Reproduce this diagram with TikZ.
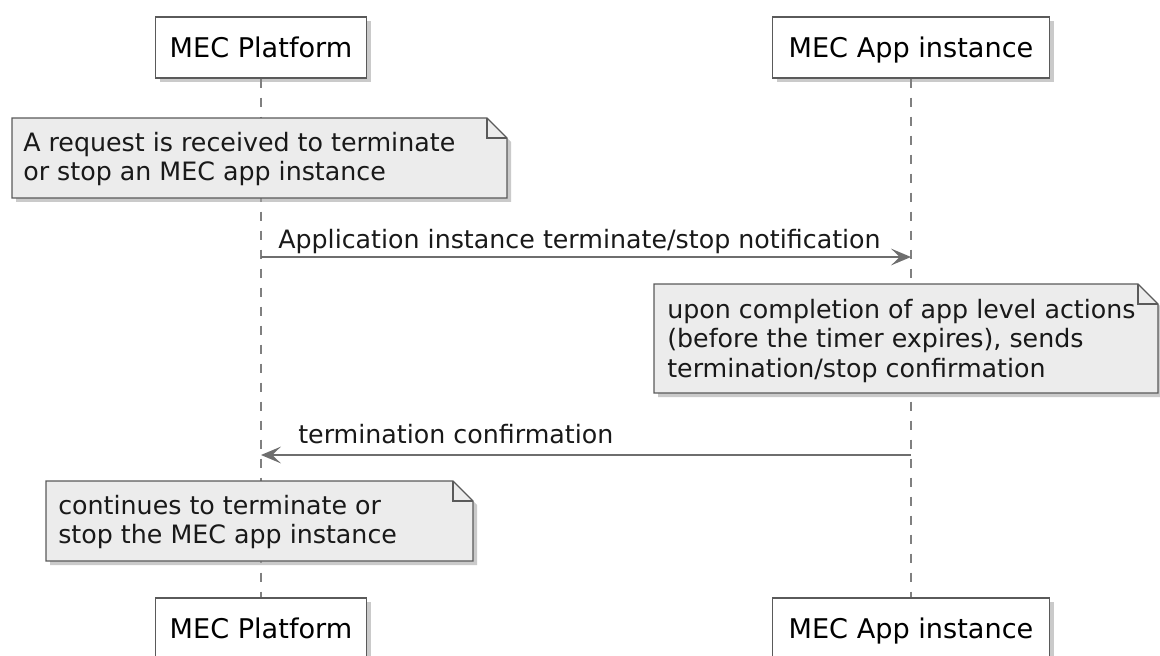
\documentclass[tikz,border=0pt]{standalone}
\usepackage{fontspec}
\setmainfont{DejaVu Sans}
\usetikzlibrary{arrows.meta,shadows}

\definecolor{boxline}{HTML}{5A5A5A}
\definecolor{notefill}{HTML}{ECECEC}
\definecolor{msggray}{HTML}{6E6E6E}
\definecolor{lifegray}{HTML}{808080}

\begin{document}
\begin{tikzpicture}[font=\fontsize{18}{21.3}\selectfont,
  shade/.style={drop shadow={shadow xshift=0.1cm, shadow yshift=-0.1cm, fill=black!35, opacity=0.6}},
  actor/.style={draw=boxline, line width=1pt, fill=white, shade, minimum height=1.525cm, inner sep=0pt, text height=0.55cm, text depth=0.05cm, font=\fontsize{19.3}{21.3}\selectfont},
  lifeline/.style={draw=lifegray, line width=0.8pt, dash pattern=on 0.225cm off 0.25cm},
  note/.style={draw=boxline, line width=0.8pt, fill=notefill, shade},
  notetext/.style={anchor=west, align=left, inner sep=0pt, text=black!90},
  msg/.style={draw=msggray, line width=1pt, -{Stealth[length=0.5cm, width=0.42cm, inset=0.22cm]}},
  msglabel/.style={anchor=base west, inner sep=0pt, text=black!90}]
  \useasboundingbox (0cm,0cm) rectangle (29cm,-16.4cm);

  % participants
  \node[actor, minimum width=5.275cm] (pfTop) at (6.525cm,-1.1875cm) {MEC Platform};
  \node[actor, minimum width=6.925cm] (aiTop) at (22.775cm,-1.1875cm) {MEC App instance};
  \node[actor, minimum width=5.275cm] (pfBot) at (6.525cm,-15.7125cm) {MEC Platform};
  \node[actor, minimum width=6.925cm] (aiBot) at (22.775cm,-15.7125cm) {MEC App instance};

  % lifelines
  \draw[lifeline] (pfTop) -- (pfBot);
  \draw[lifeline] (aiTop) -- (aiBot);

  % note on MEC Platform
  \filldraw[note] (0.3cm,-2.95cm) -- (12.175cm,-2.95cm) -- (12.675cm,-3.45cm) -- (12.675cm,-4.95cm) -- (0.3cm,-4.95cm) -- cycle;
  \draw[boxline, line width=0.8pt] (12.175cm,-2.95cm) -- (12.175cm,-3.45cm) -- (12.675cm,-3.45cm);
  \node[notetext] (reqNote) at (0.575cm,-3.975cm) {A request is received to terminate\\or stop an MEC app instance};

  % notification
  \coordinate (pfNotify) at (6.525cm,-6.425cm);
  \coordinate (aiNotify) at (22.775cm,-6.425cm);
  \draw[msg] (pfNotify) -- (aiNotify);
  \node[msglabel] (notifyLabel) at (6.95cm,-6.225cm) {Application instance terminate/stop notification};

  % note on MEC App instance
  \filldraw[note] (16.35cm,-7.1cm) -- (28.45cm,-7.1cm) -- (28.95cm,-7.6cm) -- (28.95cm,-9.825cm) -- (16.35cm,-9.825cm) -- cycle;
  \draw[boxline, line width=0.8pt] (28.45cm,-7.1cm) -- (28.45cm,-7.6cm) -- (28.95cm,-7.6cm);
  \node[notetext] (appNote) at (16.675cm,-8.525cm) {upon completion of app level actions\\(before the timer expires), sends\\termination/stop confirmation};

  % confirmation
  \coordinate (aiConfirm) at (22.775cm,-11.375cm);
  \coordinate (pfConfirm) at (6.525cm,-11.375cm);
  \draw[msg] (aiConfirm) -- (pfConfirm);
  \node[msglabel] (confirmLabel) at (7.45cm,-11.075cm) {termination confirmation};

  % final note
  \filldraw[note] (1.15cm,-12.025cm) -- (11.325cm,-12.025cm) -- (11.825cm,-12.525cm) -- (11.825cm,-14.025cm) -- (1.15cm,-14.025cm) -- cycle;
  \draw[boxline, line width=0.8pt] (11.325cm,-12.025cm) -- (11.325cm,-12.525cm) -- (11.825cm,-12.525cm);
  \node[notetext] (endNote) at (1.45cm,-13.05cm) {continues to terminate or\\stop the MEC app instance};
\end{tikzpicture}
\end{document}
